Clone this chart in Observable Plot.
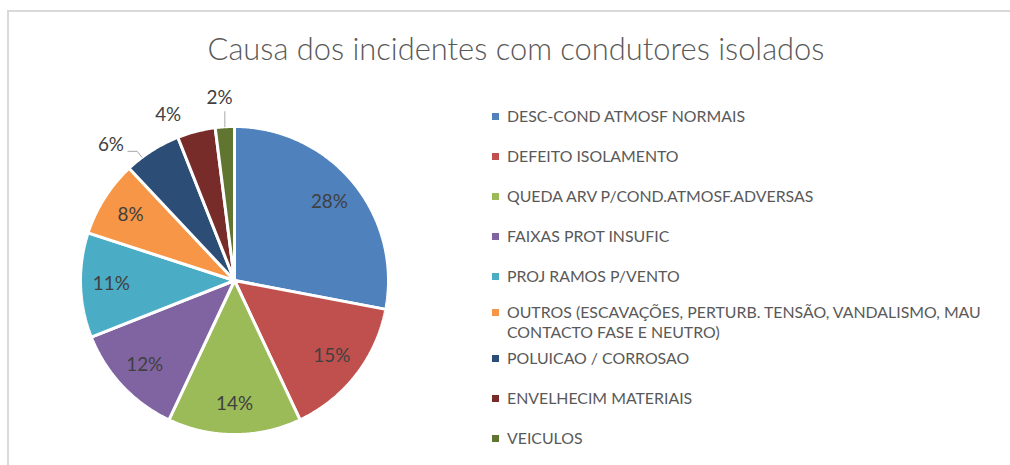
<!DOCTYPE html>
<html><head><meta charset="utf-8">
<script src="https://cdn.jsdelivr.net/npm/d3@7"></script>
<script src="https://cdn.jsdelivr.net/npm/@observablehq/plot@0.6"></script>
<style>
html,body{margin:0;padding:0;background:#fff;overflow:hidden;width:1010px;height:465px}
#wrap{position:absolute;left:0;top:0;width:1010px;height:465px;overflow:hidden;background:#fff}
#ftop{position:absolute;left:7px;top:10px;width:1003px;height:2px;background:#d9d9d9}
#fleft{position:absolute;left:7px;top:10px;width:2px;height:455px;background:#d9d9d9}
#title{position:absolute;left:0;top:0;width:1010px;height:90px}
#pie{position:absolute;left:54px;top:90px}
.leg{position:absolute;left:492px;color:#595959;white-space:nowrap;line-height:20px}
.leg .sw{position:absolute;left:0;top:6.5px;width:7px;height:7px}
.leg .tx{position:absolute;left:15px;top:0}
</style></head><body><div id="wrap"><div id="ftop"></div><div id="fleft"></div><svg id="title" width="1010" height="90"></svg></div>
<script>
// ---- data ----
const categories = [
  "DESC-COND ATMOSF NORMAIS",
  "DEFEITO ISOLAMENTO",
  "QUEDA ARV P/COND.ATMOSF.ADVERSAS",
  "FAIXAS PROT INSUFIC",
  "PROJ RAMOS P/VENTO",
  "OUTROS (ESCAVAÇÕES, PERTURB. TENSÃO, VANDALISMO, MAU|CONTACTO FASE E NEUTRO)",
  "POLUICAO / CORROSAO",
  "ENVELHECIM MATERIAIS",
  "VEICULOS"
];
const shares = [28, 15, 14, 12, 11, 8, 6, 4, 2];
const colors = ["#4F81BD","#C0504D","#9BBB59","#8064A2","#4BACC6","#F79646","#2C4D75","#772C2A","#5F7530"];
const titleText = "Causa dos incidentes com condutores isolados";

// ---- layout ----
const FONT = "Lato";
const FALLBACK = "Liberation Sans";
const TFONT = "Lato";
const R = 154, W = 360, H = 380, CX = 180, CY = 190;
const legendRowY = [116, 156, 196, 236, 276, 312, 358, 398, 438];
const outside = {6: {r: 1.19, shift: -10}, 7: {r: 1.16, shift: -7.4}, 8: {r: 1.19, shift: -1.1}};

function fitSize(text, width, fam, weight) {
  const c = document.createElement("canvas").getContext("2d");
  c.font = `${weight||400} 100px "${fam}", "${FALLBACK}"`;
  return 100 * width / c.measureText(text).width;
}
const famCss = f => `"${f}", "${FALLBACK}", sans-serif`;

const rows = categories.map((c, i) => ({cat: c, share: shares[i], i}));
const arcs = d3.pie().sort(null).value(d => d.share)(rows);

const wedgePts = arcs.flatMap(p => {
  const n = Math.max(4, Math.ceil((p.endAngle - p.startAngle) / 0.01));
  const pts = [{cat: p.data.cat, x: 0, y: 0}];
  for (let k = 0; k <= n; k++) {
    const a = p.startAngle + (p.endAngle - p.startAngle) * k / n;
    pts.push({cat: p.data.cat, x: Math.sin(a), y: Math.cos(a)});
  }
  pts.push({cat: p.data.cat, x: 0, y: 0});
  return pts;
});

const labelPts = arcs.map(p => {
  const mid = (p.startAngle + p.endAngle) / 2;
  const o = outside[p.data.i];
  const a = o ? mid + o.shift * Math.PI / 180 : mid;
  const rr = o ? o.r : 0.8;
  return {x: Math.sin(a) * rr, y: Math.cos(a) * rr, text: p.data.share + "%", mid, i: p.data.i};
});

// leader lines for 6% and 2%
const leaders = [];
{
  const l6 = labelPts[6], p6 = arcs[6];
  const a6 = (p6.startAngle + p6.endAngle) / 2 - 4.5 * Math.PI / 180;
  leaders.push({g: 6, x: l6.x + 0.11, y: l6.y - 0.04});
  leaders.push({g: 6, x: l6.x + 0.17, y: l6.y - 0.04});
  leaders.push({g: 6, x: Math.sin(a6), y: Math.cos(a6)});
  const l2 = labelPts[8], p2 = arcs[8];
  const a2 = (p2.startAngle + p2.endAngle) / 2;
  leaders.push({g: 8, x: Math.sin(a2), y: l2.y - 0.09});
  leaders.push({g: 8, x: Math.sin(a2), y: Math.cos(a2)});
}

const pctSize = fitSize("28%", 37, FONT);
const chart = Plot.plot({
  width: W, height: H, margin: 0,
  style: {background: "transparent", overflow: "visible"},
  x: {domain: [-CX / R, (W - CX) / R], axis: null},
  y: {domain: [-(H - CY) / R, CY / R], axis: null},
  color: {domain: categories, range: colors},
  marks: [
    Plot.line(wedgePts, {x: "x", y: "y", z: "cat", fill: "cat", stroke: "white", strokeWidth: 3, strokeLinejoin: "miter", curve: "linear"}),
    Plot.line(leaders, {x: "x", y: "y", z: "g", stroke: "#a6a6a6", strokeWidth: 1}),
    Plot.text(labelPts, {x: "x", y: "y", text: "text", fill: "#404040", fontSize: pctSize, fontFamily: famCss(FONT)})
  ]
});
chart.id = "pie";
document.getElementById("wrap").appendChild(chart);

// title
const tsize = fitSize(titleText, 617, TFONT, 300);
d3.select("#title").append("text")
  .attr("x", 516).attr("y", 60).attr("text-anchor", "middle")
  .attr("font-family", famCss(TFONT)).attr("font-weight", 300)
  .attr("font-size", tsize).attr("fill", "#595959")
  .text(titleText);

// legend
const lsize = fitSize(categories[0], 239, FONT);
const wrap = d3.select("#wrap");
categories.forEach((c, i) => {
  const lines = c.split("|");
  const row = wrap.append("div").attr("class", "leg")
    .style("top", (legendRowY[i] - 10) + "px")
    .style("font-family", famCss(FONT)).style("font-size", lsize + "px");
  row.append("div").attr("class", "sw").style("background", colors[i]);
  row.append("div").attr("class", "tx").html(lines.join("<br>"));
});
</script>
</body></html>
